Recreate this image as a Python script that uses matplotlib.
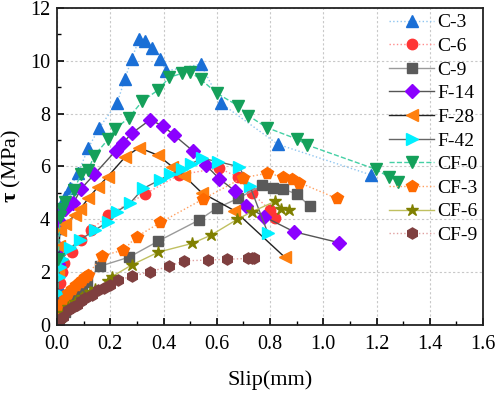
import matplotlib
matplotlib.use("Agg")
import matplotlib.pyplot as plt
from matplotlib.ticker import MultipleLocator

plt.rcParams['font.family'] = ['Liberation Serif', 'DejaVu Serif']
plt.rcParams['mathtext.fontset'] = 'custom'
plt.rcParams['mathtext.rm'] = 'Liberation Serif'
plt.rcParams['mathtext.bf'] = 'Liberation Serif:bold'

labels = ["C-3", "C-6", "C-9", "F-14", "F-28", "F-42", "CF-0", "CF-3", "CF-6", "CF-9"]

c3_x = [0, 0.003, 0.005, 0.011, 0.018, 0.030, 0.050, 0.080, 0.118, 0.159, 0.226, 0.255, 0.280, 0.309, 0.330, 0.358, 0.388, 0.409, 0.540, 0.616, 0.829, 1.179]
c3_y = [0, 1.5, 3.67, 4.05, 4.5, 4.85, 5.2, 5.77, 6.71, 7.47, 8.41, 9.31, 10.06, 10.83, 10.74, 10.47, 10.07, 9.61, 9.87, 8.39, 6.84, 5.68]

c6_x = [0, 0.005, 0.010, 0.018, 0.025, 0.058, 0.090, 0.127, 0.193, 0.329, 0.458, 0.609, 0.678, 0.731, 0.800, 0.819]
c6_y = [0, 1.0, 1.6, 2.02, 2.33, 2.77, 3.22, 3.60, 4.16, 4.95, 5.68, 5.94, 5.60, 5.00, 4.35, 4.05]

c9_x = [0, 0.010, 0.030, 0.050, 0.064, 0.080, 0.095, 0.112, 0.160, 0.271, 0.381, 0.533, 0.599, 0.680, 0.769, 0.810, 0.850, 0.900, 0.950]
c9_y = [0, 0.3, 0.5, 0.8, 1.0, 1.16, 1.4, 1.64, 2.22, 2.57, 3.18, 3.97, 4.42, 4.79, 5.28, 5.19, 5.14, 4.96, 4.49]

f14_x = [0, 0.003, 0.005, 0.006, 0.011, 0.030, 0.061, 0.090, 0.140, 0.220, 0.249, 0.280, 0.349, 0.397, 0.439, 0.510, 0.558, 0.610, 0.670, 0.710, 0.778, 0.890, 1.058]
f14_y = [0, 1.0, 2.3, 2.9, 3.91, 4.4, 4.6, 5.15, 5.70, 6.59, 6.90, 7.25, 7.76, 7.54, 7.19, 6.59, 6.06, 5.53, 5.06, 4.50, 4.10, 3.53, 3.12]

f28_x = [0, 0.003, 0.005, 0.008, 0.011, 0.030, 0.068, 0.086, 0.118, 0.155, 0.190, 0.255, 0.308, 0.378, 0.433, 0.478, 0.543, 0.666, 0.856]
f28_y = [0, 0.8, 2.0, 3.0, 3.60, 3.81, 4.16, 4.38, 4.80, 5.24, 5.61, 6.35, 6.71, 6.43, 5.99, 5.64, 5.01, 4.33, 2.56]

f42_x = [0, 0.003, 0.006, 0.010, 0.020, 0.049, 0.086, 0.143, 0.193, 0.224, 0.274, 0.324, 0.386, 0.424, 0.470, 0.502, 0.543, 0.606, 0.683, 0.724, 0.791]
f42_y = [0, 1.2, 1.8, 2.2, 2.5, 2.90, 3.22, 3.60, 3.91, 4.29, 4.61, 5.17, 5.49, 5.70, 5.89, 6.09, 6.31, 6.18, 5.99, 5.27, 3.50]

cf0_x = [0, 0.005, 0.011, 0.020, 0.030, 0.064, 0.090, 0.118, 0.139, 0.193, 0.218, 0.270, 0.321, 0.381, 0.421, 0.468, 0.500, 0.540, 0.600, 0.681, 0.719, 0.788, 0.900, 0.940, 1.198, 1.248, 1.282]
cf0_y = [0, 2.5, 4.10, 4.4, 4.67, 5.11, 5.71, 5.87, 6.40, 7.04, 7.41, 7.85, 8.48, 8.90, 9.37, 9.52, 9.56, 9.30, 8.77, 8.29, 7.92, 7.47, 7.04, 6.81, 5.89, 5.59, 5.43]

cf3_x = [0, 0.005, 0.010, 0.018, 0.030, 0.040, 0.055, 0.070, 0.085, 0.095, 0.105, 0.115, 0.168, 0.249, 0.299, 0.388, 0.549, 0.697, 0.789, 0.850, 0.881, 0.910, 1.050]
cf3_y = [0, 0.3, 0.6, 0.82, 1.0, 1.2, 1.35, 1.5, 1.62, 1.72, 1.80, 1.88, 2.61, 2.84, 3.34, 3.88, 4.77, 5.57, 5.74, 5.61, 5.51, 5.39, 4.79]

cf6_x = [0, 0.005, 0.015, 0.024, 0.043, 0.068, 0.093, 0.110, 0.125, 0.143, 0.193, 0.206, 0.280, 0.381, 0.508, 0.578, 0.677, 0.731, 0.819, 0.842, 0.870]
cf6_y = [0, 0.1, 0.3, 0.44, 0.69, 0.88, 1.07, 1.15, 1.25, 1.35, 1.67, 1.83, 2.27, 2.76, 3.09, 3.40, 4.00, 4.28, 4.68, 4.40, 4.34]

cf9_x = [0, 0.008, 0.024, 0.043, 0.060, 0.074, 0.090, 0.105, 0.130, 0.155, 0.175, 0.198, 0.229, 0.280, 0.351, 0.420, 0.478, 0.568, 0.640, 0.719, 0.732, 0.741]
cf9_y = [0, 0.15, 0.31, 0.57, 0.67, 0.76, 0.90, 1.01, 1.15, 1.32, 1.40, 1.50, 1.70, 1.84, 2.02, 2.22, 2.43, 2.46, 2.49, 2.52, 2.53, 2.55]

xs = [c3_x, c6_x, c9_x, f14_x, f28_x, f42_x, cf0_x, cf3_x, cf6_x, cf9_x]
ys = [c3_y, c6_y, c9_y, f14_y, f28_y, f42_y, cf0_y, cf3_y, cf6_y, cf9_y]

styles = [
    dict(marker='^', color='#8ec5f0', ls=':', mfc='#1a6fd6', ms=8),
    dict(marker='o', color='#ff8c8c', ls=':', mfc='#ff3535', ms=7.5),
    dict(marker='s', color='#9a9a9a', ls='-', mfc='#5a5a5a', ms=7),
    dict(marker='D', color='#555555', ls='-', mfc='#8b00ff', ms=7),
    dict(marker='<', color='#222222', ls='-', mfc='#ff7f0e', ms=8),
    dict(marker='>', color='#666666', ls='-', mfc='#00f0ff', ms=8),
    dict(marker='v', color='#45d0a5', ls='--', mfc='#14a05a', ms=8),
    dict(marker='p', color='#ffa060', ls=':', mfc='#ff6a00', ms=8.5),
    dict(marker='*', color='#c0c060', ls='-', mfc='#808000', ms=9),
    dict(marker='h', color='#e0a0a0', ls=':', mfc='#7f3f3f', ms=8),
]

fig = plt.figure(figsize=(4.98, 3.94), dpi=100)
ax = fig.add_axes([0.1145, 0.175, 0.8555, 0.805])

for x, y, lab, st in zip(xs, ys, labels, styles):
    ax.plot(x, y, linestyle=st['ls'], color=st['color'], lw=1.0,
            marker=st['marker'], markerfacecolor=st['mfc'], markeredgecolor=st['mfc'],
            markersize=st['ms'], label=lab)

ax.set_xlim(0, 1.6)
ax.set_ylim(0, 12)
ax.xaxis.set_major_locator(MultipleLocator(0.2))
ax.xaxis.set_minor_locator(MultipleLocator(0.1))
ax.yaxis.set_major_locator(MultipleLocator(2))
ax.yaxis.set_minor_locator(MultipleLocator(1))
ax.set_xticklabels([f"{v:.1f}" for v in ax.get_xticks()])
ax.tick_params(which='major', direction='in', length=5, width=1.2, labelsize=14.5)
ax.tick_params(axis='x', which='major', pad=7)
ax.tick_params(axis='y', which='major', pad=5)
ax.tick_params(which='minor', direction='in', length=3, width=1.0)
ax.grid(True, which='major', linestyle=(0, (2, 2)), color='#c8c8c8', lw=0.8)
ax.set_axisbelow(True)
for s in ax.spines.values():
    s.set_linewidth(1.3)
    s.set_color('#222222')

ax.set_xlabel("Slip(mm)", fontsize=16, labelpad=12)
ax.set_ylabel(r"$\mathbf{\tau}$ (MPa)", fontsize=16, labelpad=5)

leg = ax.legend(loc='upper right', bbox_to_anchor=(1.0, 1.0), frameon=False, fontsize=14,
                handlelength=2.3, handletextpad=0.15, labelspacing=0.31,
                borderaxespad=0.1, borderpad=0.2)

fig.savefig("out.png", dpi=100)
